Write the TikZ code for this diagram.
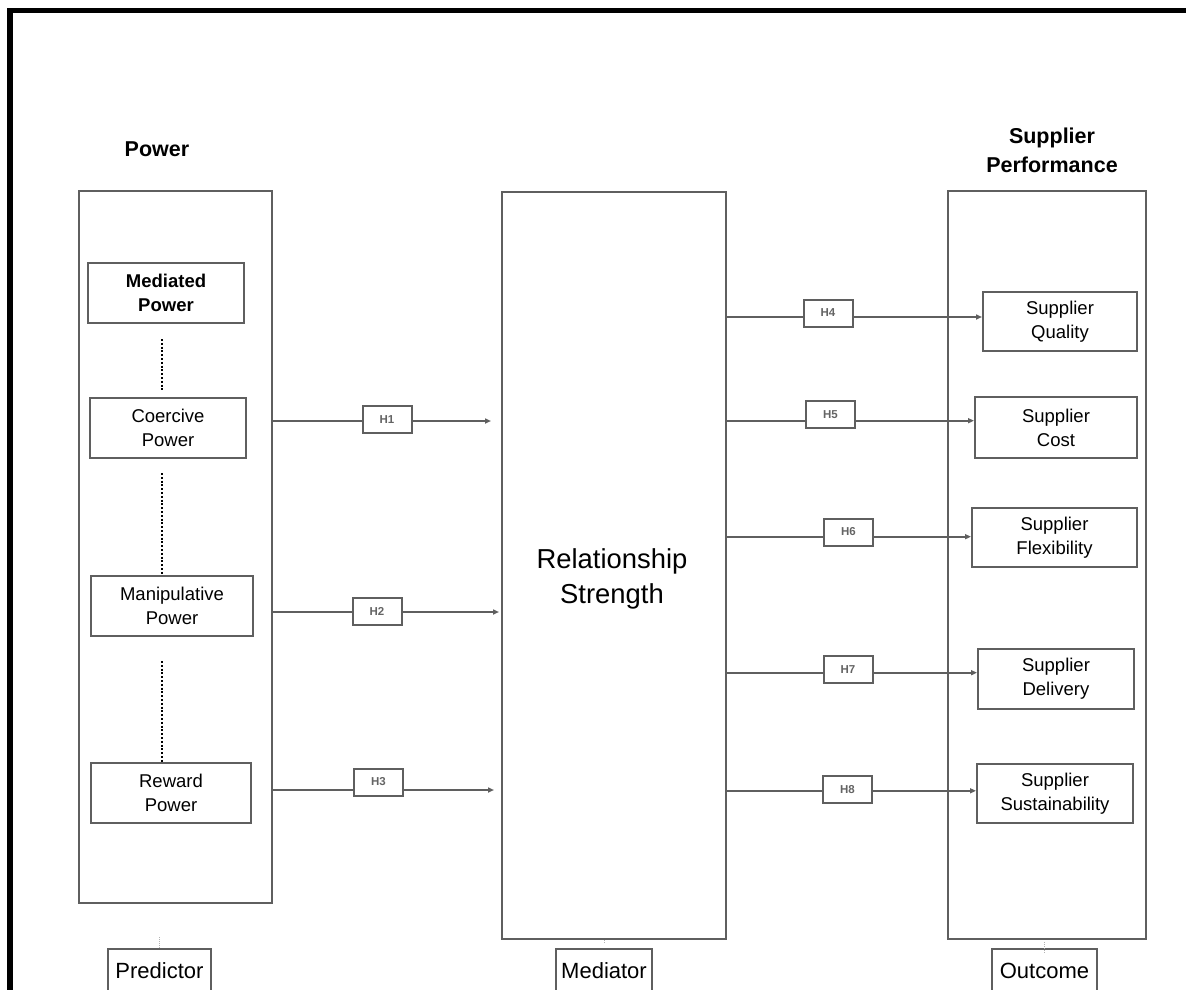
\documentclass[tikz,border=0pt]{standalone}
\usepackage{fontspec}
\setmainfont{Liberation Sans}
\usetikzlibrary{arrows.meta}
\definecolor{linegray}{RGB}{95,95,95}
\definecolor{labelgray}{RGB}{100,100,100}
\begin{document}
\begin{tikzpicture}[x=1pt,y=-1pt,
	box/.style={draw=linegray,line width=2pt,align=center,inner sep=0pt,
		font=\fontsize{18.5}{24}\selectfont},
	hyp/.style={draw=linegray,line width=2pt,minimum width=49pt,minimum height=27pt,
		inner sep=0pt,text=labelgray,font=\fontsize{11.5}{12}\selectfont\bfseries},
	link/.style={draw=linegray,line width=1.8pt},
	arrow/.style={link,-{Triangle[length=6pt,width=5pt]}},
	dotline/.style={line width=2pt,dash pattern=on 2pt off 1.8pt},
	title/.style={align=center,font=\fontsize{21.5}{29}\selectfont\bfseries},
	role/.style={draw=linegray,line width=2pt,inner sep=0pt,minimum height=44pt,
		font=\fontsize{22}{24}\selectfont},
	tick/.style={draw=gray!60,line width=0.6pt,dash pattern=on 1pt off 1pt}]
\useasboundingbox (0,0) rectangle (1186,990);
\draw[line width=5.5pt] (10,1000) -- (10,10.3) -- (1200,10.3);

% the three columns
\node[box,minimum width=193pt,minimum height=712pt] (pred) at (175.5,547) {};
\node[box,minimum width=224pt,minimum height=747pt] (med) at (614,565.5) {};
\node[box,minimum width=198pt,minimum height=748pt] (outc) at (1047,565) {};
\node[title] (power) at (157,149) {Power};
\node[title] (perf) at (1052,150) {Supplier\\Performance};
\node[align=center,font=\fontsize{27.4}{35}\selectfont] (rel) at (612,579) {Relationship\\Strength};

% predictor side
\node[box,minimum width=156pt,minimum height=60pt,font=\fontsize{18.5}{24}\selectfont\bfseries]
	(mediated) at (166,293) {Mediated\\Power};
\node[box,minimum width=156pt,minimum height=60pt] (coercive) at (168,428) {Coercive\\Power};
\node[box,minimum width=162pt,minimum height=60pt] (manip) at (172,606) {Manipulative\\Power};
\node[box,minimum width=160pt,minimum height=60pt] (reward) at (171,793) {Reward\\Power};
\draw[dotline,shorten <=15pt,shorten >=6pt] ([xshift=-4pt]mediated.south) -- ([xshift=-6pt]coercive.north);
\draw[dotline,shorten <=14pt] ([xshift=-6pt]coercive.south) -- ([xshift=-10pt]manip.north);
\draw[dotline,shorten <=24pt] ([xshift=-10pt]manip.south) -- ([xshift=-9pt]reward.north);

% outcome side
\node[box,minimum width=154pt,minimum height=59pt] (quality) at (1060,321.5) {Supplier\\Quality};
\node[box,minimum width=162pt,minimum height=61pt] (cost) at (1056,427.5) {Supplier\\Cost};
\node[box,minimum width=165pt,minimum height=59pt] (flex) at (1054.5,537.5) {Supplier\\Flexibility};
\node[box,minimum width=156pt,minimum height=60pt] (delivery) at (1056,679) {Supplier\\Delivery};
\node[box,minimum width=156pt,minimum height=59pt] (sustain) at (1055,793.5) {Supplier\\Sustainability};

% hypotheses
\foreach \h/\x/\y/\d in {1/387/419.5/1.5, 2/377/611.5/0.5, 3/378.5/782/8,
	4/828/313/4, 5/830.5/414.2/6.5, 6/848.5/532/4.7, 7/848/669.5/3.2, 8/847.5/789.8/1} {
	\node[hyp] (h\h) at (\x,\y) {H\h};
	\coordinate (y\h) at ([yshift=-\d pt]h\h.center);
}
\foreach \h/\s in {1/10,2/2,3/7} {
	\draw[link] (y\h -| pred.east) -- (y\h -| h\h.west);
	\draw[arrow,shorten >=\s pt] (y\h -| h\h.east) -- (y\h -| med.west);
}
\foreach \h/\t in {4/quality,5/cost,6/flex,7/delivery,8/sustain} {
	\draw[link] (y\h -| med.east) -- (y\h -| h\h.west);
	\draw[arrow] (y\h -| h\h.east) -- (y\h -| \t.west);
}

% roles
\node[role,minimum width=103pt] (predictor) at (159.5,971) {Predictor};
\node[role,minimum width=96pt] (mediator) at (604,971) {Mediator};
\node[role,minimum width=105pt] (outcome) at (1044.5,970.5) {Outcome};
\draw[tick] (predictor.north) -- ([yshift=11pt]predictor.north);
\draw[tick] ([yshift=5pt]mediator.north) -- ([yshift=8pt]mediator.north);
\draw[tick] ([yshift=-5pt]outcome.north) -- ([yshift=6pt]outcome.north);
\end{tikzpicture}
\end{document}
